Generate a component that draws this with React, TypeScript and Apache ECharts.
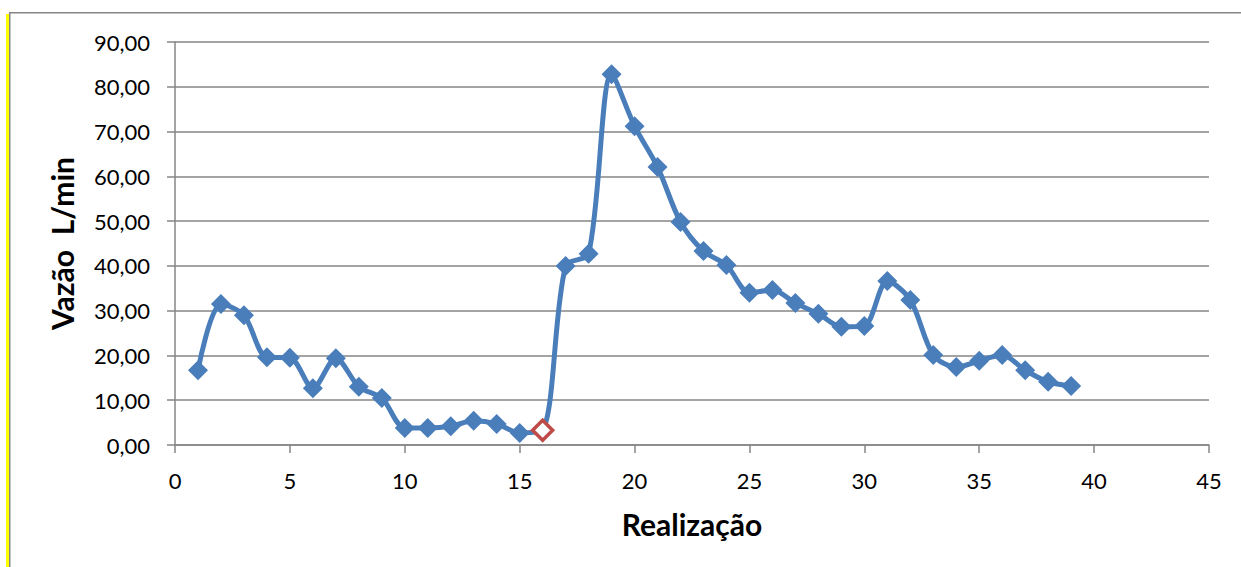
import React, { useEffect, useRef } from "react";
import * as echarts from "echarts";

const xValues = [1,2,3,4,5,6,7,8,9,10,11,12,13,14,15,16,17,18,19,20,21,22,23,24,25,26,27,28,29,30,31,32,33,34,35,36,37,38,39];
const yValues = [16.7,31.5,29.0,19.6,19.5,12.7,19.4,13.0,10.5,3.8,3.8,4.2,5.4,4.7,2.7,3.3,40.0,42.7,82.8,71.2,62.1,49.8,43.3,40.2,34.0,34.6,31.7,29.3,26.4,26.6,36.6,32.4,20.1,17.4,18.8,20.1,16.7,14.1,13.2];
const highlightIndex = 15;
const xTicks = { min: 0, max: 45, interval: 5 };
const yTicks = { min: 0, max: 90, interval: 10 };
const xTitle = "Realização";
const yTitle = "Vazão  L/min";

const BLUE = "#4A7EBB";
const RED = "#BE4B48";
const GRAY = "#868686";
const FONT = "Lato, 'Open Sans', sans-serif";

export default function App() {
  const ref = useRef<HTMLDivElement>(null);
  useEffect(() => {
    document.body.style.margin = "0";
    const chart = echarts.init(ref.current!, null, { renderer: "svg" });
    const mainData = xValues.map((x, i) => {
      if (i === highlightIndex) {
        return {
          value: [x, yValues[i]],
          itemStyle: { color: "#ffffff", borderColor: RED, borderWidth: 3.5 },
          symbolSize: 20,
        };
      }
      return [x, yValues[i]];
    });
    const redSeg = [
      [xValues[highlightIndex - 1], yValues[highlightIndex - 1]],
      [xValues[highlightIndex], yValues[highlightIndex]],
    ];
    chart.setOption({
      animation: false,
      backgroundColor: "#ffffff",
      grid: { left: 175, right: 32, top: 42, bottom: 122 },
      xAxis: {
        type: "value",
        min: xTicks.min,
        max: xTicks.max,
        interval: xTicks.interval,
        name: xTitle,
        nameLocation: "middle",
        nameGap: 64,
        nameTextStyle: { fontFamily: FONT, fontSize: 30, fontWeight: "bold", color: "#000" },
        axisLine: { show: true, lineStyle: { color: GRAY, width: 1.5 } },
        axisTick: { show: true, length: 8, lineStyle: { color: GRAY, width: 1.5 } },
        axisLabel: { fontFamily: FONT, fontSize: 22, color: "#000", margin: 24 },
        splitLine: { show: false },
      },
      yAxis: {
        type: "value",
        min: yTicks.min,
        max: yTicks.max,
        interval: yTicks.interval,
        name: yTitle,
        nameLocation: "middle",
        nameGap: 98,
        nameTextStyle: { fontFamily: FONT, fontSize: 30, fontWeight: "bold", color: "#000" },
        axisLine: { show: true, lineStyle: { color: GRAY, width: 1.5 } },
        axisTick: { show: true, length: 8, lineStyle: { color: GRAY, width: 1.5 } },
        axisLabel: {
          fontFamily: FONT,
          fontSize: 22,
          color: "#000",
          margin: 25,
          formatter: (v: number) => v.toFixed(2).replace(".", ","),
        },
        splitLine: { show: true, lineStyle: { color: GRAY, width: 1.5 } },
      },
      series: [
        {
          type: "line",
          data: mainData,
          smooth: 0.3,
          symbol: "diamond",
          symbolSize: 20,
          lineStyle: { color: BLUE, width: 5 },
          itemStyle: { color: BLUE },
          z: 2,
        },
        {
          type: "line",
          data: redSeg,
          smooth: false,
          symbol: "none",
          lineStyle: { color: RED, width: 3 },
          z: 1,
        },
      ],
      graphic: [
        { type: "rect", shape: { x: 9, y: 12, width: 1232, height: 1.5 }, style: { fill: GRAY } },
        { type: "rect", shape: { x: 9, y: 12, width: 1.5, height: 555 }, style: { fill: GRAY } },
        { type: "rect", shape: { x: 6, y: 14, width: 3, height: 553 }, style: { fill: "#FFFF00" } },
      ],
    });
    return () => chart.dispose();
  }, []);
  return <div ref={ref} style={{ width: 1241, height: 567 }} />;
}
